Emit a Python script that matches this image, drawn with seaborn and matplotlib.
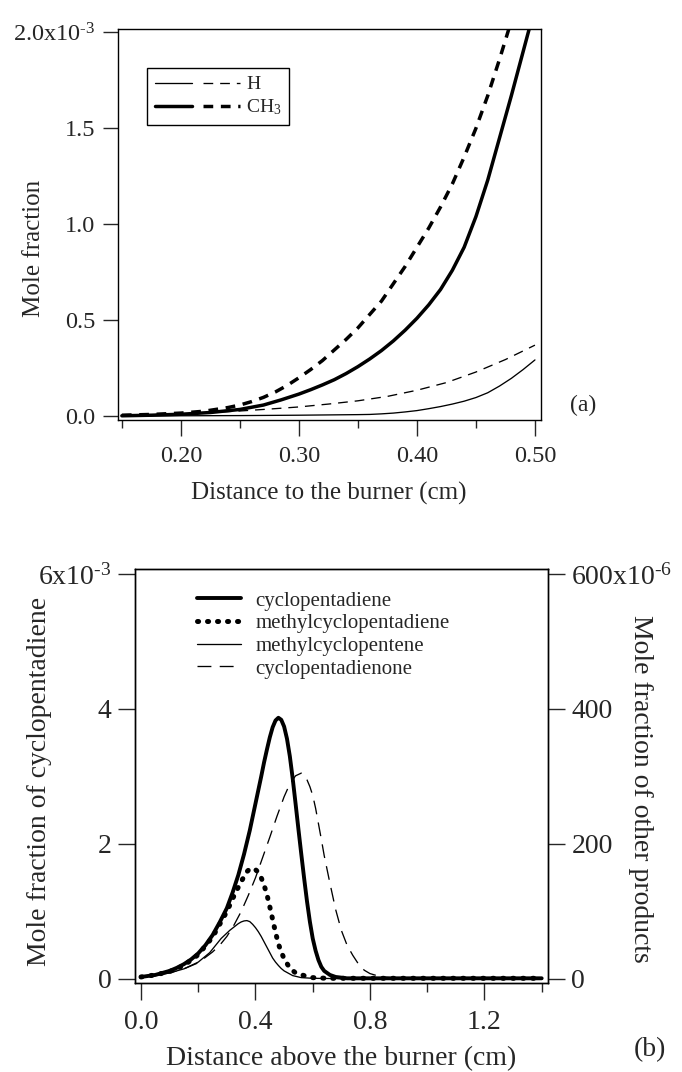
import matplotlib
matplotlib.use("Agg")
import matplotlib.pyplot as plt
import seaborn as sns
from matplotlib.legend_handler import HandlerTuple

# ---- panel (a): mole fraction, units of 1e-3 ----
h_sol_x = [0.15, 0.20, 0.25, 0.30, 0.35, 0.36, 0.37, 0.38, 0.39, 0.40, 0.41, 0.42, 0.43, 0.44, 0.45,
           0.46, 0.47, 0.48, 0.49, 0.50]
h_sol_y = [0.001, 0.002, 0.003, 0.005, 0.008, 0.009, 0.012, 0.016, 0.022, 0.029, 0.039, 0.050, 0.063,
           0.078, 0.097, 0.122, 0.157, 0.197, 0.243, 0.293]

h_dash_x = [0.15, 0.175, 0.20, 0.225, 0.25, 0.275, 0.30, 0.325, 0.35, 0.375, 0.40, 0.425, 0.45, 0.475, 0.50]
h_dash_y = [0.004, 0.008, 0.012, 0.019, 0.027, 0.037, 0.048, 0.063, 0.080, 0.103, 0.135, 0.175, 0.230, 0.295, 0.370]

ch3_sol_x = [0.15, 0.175, 0.20, 0.225, 0.25, 0.27, 0.285, 0.30, 0.31, 0.32, 0.33, 0.34, 0.35, 0.36, 0.37,
             0.38, 0.39, 0.40, 0.41, 0.42, 0.43, 0.44, 0.45, 0.46, 0.47, 0.48, 0.49, 0.50]
ch3_sol_y = [0.002, 0.005, 0.010, 0.019, 0.035, 0.058, 0.085, 0.115, 0.138, 0.163, 0.190, 0.222, 0.258,
             0.298, 0.342, 0.392, 0.448, 0.51, 0.58, 0.66, 0.76, 0.88, 1.04, 1.23, 1.45, 1.67, 1.90, 2.13]

ch3_dash_x = [0.15, 0.175, 0.20, 0.22, 0.24, 0.25, 0.26, 0.27, 0.28, 0.29, 0.30, 0.31, 0.32, 0.33, 0.34,
              0.35, 0.36, 0.37, 0.38, 0.39, 0.40, 0.41, 0.42, 0.43, 0.44, 0.45, 0.46, 0.47, 0.48]
ch3_dash_y = [0.005, 0.009, 0.016, 0.026, 0.045, 0.058, 0.076, 0.098, 0.126, 0.160, 0.200, 0.243, 0.290,
              0.345, 0.400, 0.46, 0.53, 0.60, 0.69, 0.78, 0.88, 0.98, 1.09, 1.21, 1.35, 1.50, 1.67, 1.86, 2.06]

# ---- panel (b) ----
# cyclopentadiene, left axis (units of 1e-3)
cpd_x = [0.00, 0.05, 0.10, 0.125, 0.15, 0.175, 0.20, 0.225, 0.25, 0.275, 0.30, 0.32, 0.34, 0.36, 0.38,
         0.40, 0.42, 0.43, 0.44, 0.45, 0.46, 0.47, 0.48, 0.49, 0.50, 0.51, 0.52, 0.53, 0.54, 0.55, 0.56,
         0.57, 0.58, 0.59, 0.60, 0.61, 0.62, 0.63, 0.64, 0.66, 0.68, 0.72, 0.80, 1.00, 1.40]
cpd_y = [0.03, 0.06, 0.12, 0.165, 0.22, 0.29, 0.38, 0.50, 0.65, 0.84, 1.05, 1.28, 1.54, 1.85, 2.20,
         2.60, 3.00, 3.21, 3.40, 3.58, 3.73, 3.83, 3.87, 3.84, 3.74, 3.56, 3.30, 2.97, 2.60, 2.22, 1.85,
         1.49, 1.15, 0.85, 0.60, 0.42, 0.28, 0.18, 0.12, 0.06, 0.03, 0.01, 0.01, 0.01, 0.01]

# other products, right axis (units of 1e-6)
mcpd_x = [0.00, 0.05, 0.10, 0.15, 0.20, 0.25, 0.30, 0.33, 0.36, 0.37, 0.38, 0.39, 0.40, 0.41, 0.42,
          0.43, 0.44, 0.45, 0.46, 0.47, 0.48, 0.49, 0.50, 0.52, 0.54, 0.57, 0.60, 0.65, 0.70, 1.40]
mcpd_y = [3, 6, 11, 20, 36, 62, 100, 128, 152, 159, 163, 164, 162, 158, 150,
          139, 125, 107, 88, 69, 52, 40, 30, 16, 9, 5, 2, 1, 1, 1]

mcpe_x = [0.00, 0.05, 0.10, 0.15, 0.20, 0.24, 0.28, 0.31, 0.34, 0.35, 0.36, 0.37, 0.38, 0.39, 0.40,
          0.41, 0.42, 0.43, 0.44, 0.45, 0.46, 0.47, 0.48, 0.49, 0.50, 0.53, 0.56, 0.60, 0.70, 1.40]
mcpe_y = [3, 5, 9, 15, 25, 39, 60, 72, 82, 84.5, 86, 86.5, 85, 81, 76,
          70, 63, 55, 47, 39, 31, 25, 20, 15.5, 12, 5, 2, 1, 0.5, 0.5]

cpdo_x = [0.00, 0.05, 0.10, 0.15, 0.20, 0.25, 0.275, 0.30, 0.325, 0.35, 0.375, 0.40, 0.425, 0.45, 0.475,
          0.50, 0.52, 0.54, 0.56, 0.57, 0.58, 0.59, 0.60, 0.61, 0.62, 0.63, 0.64, 0.66, 0.68, 0.70,
          0.72, 0.74, 0.76, 0.78, 0.80, 0.84, 0.90, 1.40]
cpdo_y = [3, 5, 9, 15, 24, 40, 50, 63, 80, 100, 124, 150, 180, 210, 241,
          270, 289, 301, 305, 302, 295, 285, 272, 253, 230, 207, 183, 142, 103, 72,
          50, 35, 22, 13, 8, 3, 1, 1]

W, H = 682, 1072

sns.set_theme(style="ticks")
plt.rcParams["font.family"] = ["Liberation Serif", "DejaVu Serif"]
plt.rcParams["mathtext.fontset"] = "custom"
plt.rcParams["mathtext.rm"] = "Liberation Serif"
plt.rcParams["lines.scale_dashes"] = False
plt.rcParams["axes.linewidth"] = 1.0
plt.rcParams["axes.edgecolor"] = "black"


def px(x, y):
    return x / W, 1 - y / H


def box(l, t, r, b):
    return [l / W, 1 - b / H, (r - l) / W, (b - t) / H]


def sci(mant, exp):
    # tick label like 2.0x10^-3, with a plain hyphen in the exponent
    return r"$\mathregular{%sx10^{\text{-}%s}}$" % (mant, exp)


fig = plt.figure(figsize=(W / 100, H / 100), dpi=100)

# ================= panel (a) =================
ax = fig.add_axes(box(117.5, 28.5, 540.5, 420))
thin, thick = 0.95, 2.5
sns.lineplot(x=h_sol_x, y=h_sol_y, ax=ax, color="black", lw=thin)
l_hs = ax.lines[-1]
sns.lineplot(x=h_dash_x, y=h_dash_y, ax=ax, color="black", lw=thin, linestyle=(0, (7, 5)))
l_hd = ax.lines[-1]
sns.lineplot(x=ch3_sol_x, y=ch3_sol_y, ax=ax, color="black", lw=thick)
l_cs = ax.lines[-1]
sns.lineplot(x=ch3_dash_x, y=ch3_dash_y, ax=ax, color="black", lw=thick, linestyle=(0, (7, 5.5)))
l_cd = ax.lines[-1]

ax.set_xlim(0.1463, 0.5047)
ax.set_ylim(-0.02, 2.02)
ax.set_xticks([0.20, 0.30, 0.40, 0.50], ["0.20", "0.30", "0.40", "0.50"])
ax.set_xticks([0.15, 0.25, 0.35, 0.45], minor=True)
ax.set_yticks([0, 0.5, 1.0, 1.5, 2.0], ["0.0", "0.5", "1.0", "1.5", sci("2.0", 3)])
ax.tick_params(axis="x", which="major", direction="out", length=11.5, width=1, labelsize=17.5, pad=7)
ax.tick_params(axis="x", which="minor", direction="out", length=6, width=1)
ax.tick_params(axis="y", direction="out", length=10.8, width=1, labelsize=17.5, pad=5)
ax.set_xlabel("")
ax.set_ylabel("")
for s in ax.spines.values():
    s.set_visible(True)
    s.set_color("black")

leg = ax.legend([(l_hs, l_hd), (l_cs, l_cd)], ["H", r"$\mathregular{CH_3}$"],
                handler_map={tuple: HandlerTuple(ndivide=None, pad=0.6)},
                loc="upper left", bbox_to_anchor=(0.0697, 0.899), borderaxespad=0,
                fontsize=14, handlelength=4.4, handletextpad=0.3, labelspacing=0.2,
                fancybox=False, framealpha=1, edgecolor="black")
leg.get_frame().set_linewidth(1.0)

fig.text(*px(34, 248), "Mole fraction", rotation=90, ha="center", va="center", fontsize=18)
fig.text(*px(329, 493), "Distance to the burner (cm)", ha="center", va="center", fontsize=18)
fig.text(*px(583, 405), "(a)", ha="center", va="center", fontsize=17)

# ================= panel (b) =================
bx = fig.add_axes(box(135, 569, 547.7, 983.3))
bx2 = bx.twinx()
sns.lineplot(x=cpd_x, y=cpd_y, ax=bx, color="black", lw=2.8)
l_cpd = bx.lines[-1]
sns.lineplot(x=mcpd_x, y=mcpd_y, ax=bx2, color="black", lw=3.6, linestyle=(0, (0.8, 6.4)),
             dash_capstyle="round")
l_mcpd = bx2.lines[-1]
sns.lineplot(x=mcpe_x, y=mcpe_y, ax=bx2, color="black", lw=thin)
l_mcpe = bx2.lines[-1]
sns.lineplot(x=cpdo_x, y=cpdo_y, ax=bx2, color="black", lw=thin, linestyle=(0, (10, 6)))
l_cpdo = bx2.lines[-1]

bx.set_xlim(-0.021, 1.421)
bx.set_ylim(-0.064, 6.074)
bx2.set_ylim(-6.4, 607.4)
bx.set_xticks([0.0, 0.4, 0.8, 1.2], ["0.0", "0.4", "0.8", "1.2"])
bx.set_xticks([0.2, 0.6, 1.0, 1.4], minor=True)
bx.set_yticks([0, 2, 4, 6], ["0", "2", "4", sci("6", 3)])
bx2.set_yticks([0, 200, 400, 600], ["0", "200", "400", sci("600", 6)])
bx.tick_params(axis="x", which="major", direction="out", length=12, width=1, labelsize=20, pad=7)
bx.tick_params(axis="x", which="minor", direction="out", length=6.5, width=1)
bx.tick_params(axis="y", direction="out", length=12, width=1, labelsize=20, pad=5)
bx2.tick_params(axis="y", direction="out", length=12, width=1, labelsize=20, pad=5)
for a in (bx, bx2):
    a.set_xlabel("")
    a.set_ylabel("")
    for s in a.spines.values():
        s.set_visible(True)
        s.set_color("black")

bx2.legend([l_cpd, l_mcpd, l_mcpe, l_cpdo],
           ["cyclopentadiene", "methylcyclopentadiene", "methylcyclopentene", "cyclopentadienone"],
           loc="upper left", bbox_to_anchor=(0.150, 0.947), borderaxespad=0, borderpad=0,
           frameon=False, fontsize=15, handlelength=2.1, handletextpad=0.7, labelspacing=0.15)

fig.text(*px(40, 781), "Mole fraction of cyclopentadiene", rotation=90, ha="center", va="center", fontsize=20)
fig.text(*px(641, 789), "Mole fraction of other products", rotation=270, ha="center", va="center", fontsize=20)
fig.text(*px(341, 1059), "Distance above the burner (cm)", ha="center", va="center", fontsize=20)
fig.text(*px(650, 1050), "(b)", ha="center", va="center", fontsize=20)

fig.savefig("out.png", dpi=100)
